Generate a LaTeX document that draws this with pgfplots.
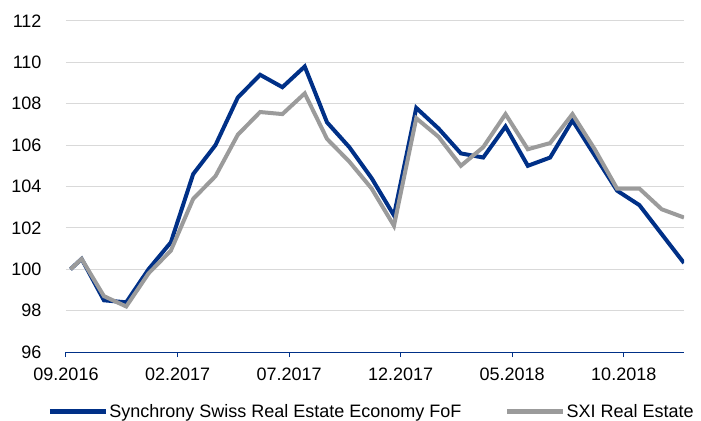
\documentclass[border=0pt]{standalone}
\usepackage{pgfplots}
\pgfplotsset{compat=1.18}
\usepackage{fontspec}
\setmainfont{Liberation Sans}
\definecolor{navy}{HTML}{003087}
\definecolor{sgray}{HTML}{9B9B9B}
\definecolor{gridc}{HTML}{D9D9D9}
\pgfplotstableread{
x blue gray
0.2 100.0 100.0
0.7 100.5 100.5
1.7 98.5 98.7
2.7 98.4 98.2
3.7 100.0 99.8
4.7 101.3 100.9
5.7 104.6 103.4
6.7 106.0 104.5
7.7 108.3 106.5
8.7 109.4 107.6
9.7 108.8 107.5
10.7 109.8 108.5
11.7 107.1 106.3
12.7 105.9 105.2
13.7 104.4 103.9
14.7 102.6 102.1
15.7 107.8 107.3
16.7 106.8 106.4
17.7 105.6 105.0
18.7 105.4 105.9
19.7 106.9 107.5
20.7 105.0 105.8
21.7 105.4 106.1
22.7 107.2 107.5
23.7 105.5 105.8
24.7 103.8 103.9
25.7 103.1 103.9
26.7 101.7 102.9
27.7 100.3 102.5
}\datatable
\begin{document}
\begin{tikzpicture}
\path[use as bounding box] (-66bp,-69bp) rectangle (635bp,352bp);
\begin{axis}[
  at={(0,0)}, anchor=south west,
  scale only axis, width=618bp, height=331bp,
  xmin=0, xmax=27.7, ymin=96, ymax=112,
  xtick={0,5,10,15,20,25},
  xticklabels={09.2016,02.2017,07.2017,12.2017,05.2018,10.2018},
  ytick={96,98,...,112},
  ymajorgrids, grid style={gridc, line width=1bp},
  axis x line*=bottom, axis y line*=left,
  y axis line style={draw=none},
  x axis line style={navy, line width=1bp, -},
  xtick style={navy, line width=1bp},
  ytick style={draw=none},
  tick align=outside, major tick length=5bp,
  tick label style={font=\fontsize{18bp}{21bp}\selectfont, text=black},
  /pgf/number format/assume math mode=true,
  yticklabel style={anchor=east, xshift=-16bp},
  xticklabel style={yshift=-7bp},
  legend style={draw=none, at={(axis description cs:0.4935,-0.181)}, anchor=center,
    font=\fontsize{18bp}{21bp}\selectfont,
    nodes={inner sep=1bp},
    /tikz/every even column/.append style={column sep=42bp}},
  legend columns=2,
  legend image code/.code={\draw[#1, line width=5bp] (0bp,0bp) -- (56bp,0bp);},
]
\addplot[navy, line width=4bp, no marks] table[x=x, y=blue] {\datatable};
\addlegendentry{Synchrony Swiss Real Estate Economy FoF}
\addplot[sgray, line width=4bp, no marks] table[x=x, y=gray] {\datatable};
\addlegendentry{SXI Real Estate}
\end{axis}
\end{tikzpicture}
\end{document}
